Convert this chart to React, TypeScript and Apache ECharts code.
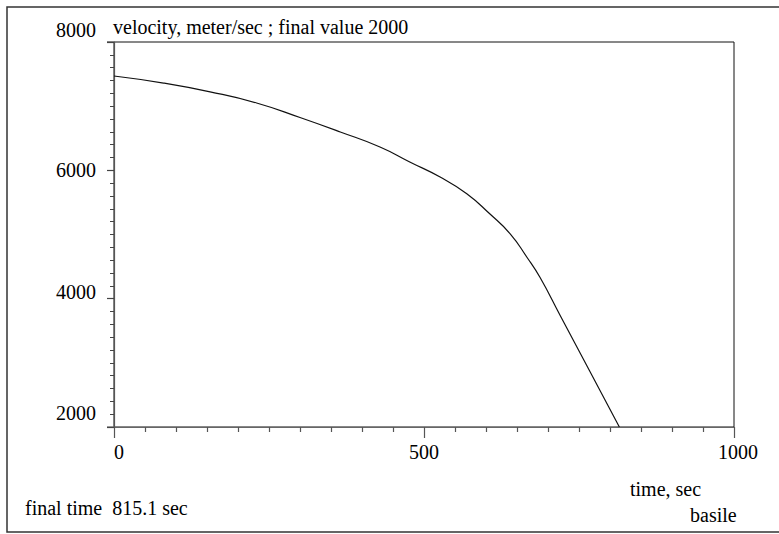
import React, { useEffect, useRef } from "react";
import * as echarts from "echarts";

const times = [0, 80, 155, 230, 300, 365, 429, 477, 526, 569, 606, 639, 666, 687, 719, 767, 815.1];
const velocities = [7470, 7360, 7223, 7050, 6823, 6598, 6364, 6130, 5895, 5636, 5323, 5011, 4646, 4333, 3750, 2876, 2000];
const xTicks = [0, 500, 1000];
const yTicks = [2000, 4000, 6000, 8000];
const titleText = "velocity, meter/sec ; final value 2000";
const footText = "final time  815.1 sec";
const xName = "time, sec";
const author = "basile";

const FONT = "serif";

export default function App() {
  const ref = useRef<HTMLDivElement>(null);
  useEffect(() => {
    if (!ref.current) return;
    const chart = echarts.init(ref.current, undefined, { renderer: "svg" });
    const data = times.map((t, i) => [t, velocities[i]]);
    const yShift: Record<number, number[]> = {
      8000: [0, 0, 24, 0],
      6000: [0, 0, 0, 0],
      4000: [0, 0, 14, 0],
      2000: [0, 0, 28, 0],
    };
    const yRich: Record<string, any> = {};
    yTicks.forEach((v) => {
      yRich["s" + v] = { fontSize: 20, fontFamily: FONT, color: "#000", padding: yShift[v] };
    });
    const xRich: Record<string, any> = {};
    xTicks.forEach((v) => {
      xRich["s" + v] = {
        fontSize: 20,
        fontFamily: FONT,
        color: "#000",
        padding: v === 0 ? [0, 0, 0, 10] : v === 1000 ? [0, 0, 0, 8] : [0, 0, 0, 0],
      };
    });
    const textStyle = (text: string) => ({
      text,
      fontSize: 20,
      fontFamily: FONT,
      fill: "#000",
    });
    chart.setOption({
      animation: false,
      textStyle: { fontFamily: FONT },
      grid: {
        left: 114,
        right: 45,
        top: 42,
        bottom: 107,
        show: true,
        borderColor: "#111",
        borderWidth: 1,
      },
      xAxis: {
        type: "value",
        min: 0,
        max: 1000,
        interval: 500,
        axisLine: { show: true, onZero: false, lineStyle: { color: "#666", width: 1.2 } },
        axisTick: { show: true, length: 11, lineStyle: { color: "#555", width: 1.2 } },
        minorTick: { show: true, splitNumber: 10, length: 5, lineStyle: { color: "#555", width: 1.2 } },
        splitLine: { show: false },
        axisLabel: {
          margin: 15,
          color: "#000",
          fontFamily: FONT,
          fontSize: 20,
          formatter: (v: number) => `{s${v}|${v}}`,
          rich: xRich,
        },
      },
      yAxis: {
        type: "value",
        min: 2000,
        max: 8000,
        interval: 2000,
        axisLine: { show: true, onZero: false, lineStyle: { color: "#555", width: 1.2 } },
        axisTick: { show: true, length: 7, lineStyle: { color: "#444", width: 1.2 } },
        minorTick: { show: true, splitNumber: 10, length: 4, lineStyle: { color: "#444", width: 1 } },
        splitLine: { show: false },
        axisLabel: {
          margin: 18,
          color: "#000",
          fontFamily: FONT,
          fontSize: 20,
          formatter: (v: number) => `{s${v}|${v}}`,
          rich: yRich,
        },
      },
      series: [
        {
          type: "line",
          data,
          showSymbol: false,
          smooth: 0.5,
          lineStyle: { color: "#111", width: 1.2 },
        },
      ],
      graphic: [
        {
          type: "rect",
          shape: { x: 7, y: 7, width: 820, height: 525 },
          style: { fill: "none", stroke: "#333", lineWidth: 1.5 },
          silent: true,
        },
        {
          type: "line",
          shape: { x1: 107, y1: 42, x2: 114, y2: 42 },
          style: { stroke: "#111", lineWidth: 1 },
        },
        {
          type: "line",
          shape: { x1: 107, y1: 427, x2: 114, y2: 427 },
          style: { stroke: "#666", lineWidth: 1.2 },
        },
        { type: "text", x: 113, y: 17, style: textStyle(titleText) },
        { type: "text", x: 25, y: 498, style: textStyle(footText) },
        { type: "text", x: 630, y: 479, style: textStyle(xName) },
        { type: "text", x: 690, y: 505, style: textStyle(author) },
      ],
    });
    return () => chart.dispose();
  }, []);
  return (
    <div style={{ position: "absolute", left: 0, top: 0 }}>
      <div ref={ref} style={{ width: 779, height: 534 }} />
    </div>
  );
}
